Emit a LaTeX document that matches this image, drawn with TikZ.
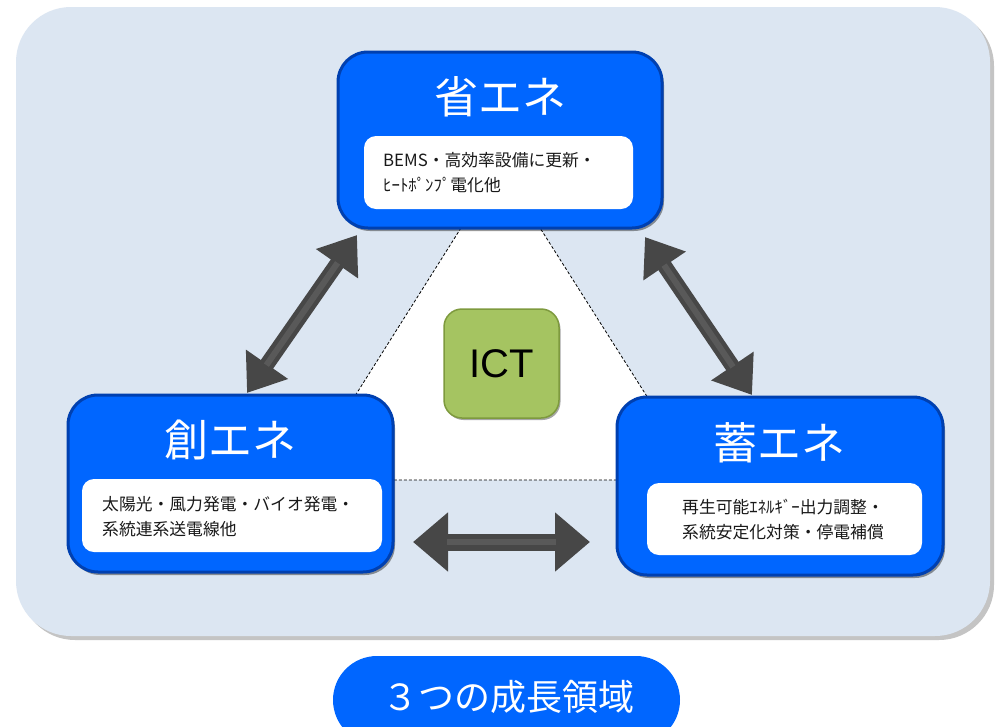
\documentclass[tikz,border=0pt]{standalone}
\usepackage{fontspec}
\newfontfamily\jp{Noto Sans CJK JP}
\newfontfamily\lsans{Liberation Sans}
\usetikzlibrary{arrows.meta,shadows}
\definecolor{panel}{HTML}{DCE6F2}
\definecolor{panelshadow}{HTML}{C4C4C4}
\definecolor{mainblue}{HTML}{0066FF}
\definecolor{darkblue}{HTML}{0040B0}
\definecolor{ictgreen}{HTML}{A5C461}
\definecolor{ictdark}{HTML}{7E9A3E}
\definecolor{arrowgray}{HTML}{474747}
\tikzset{
  bluebox/.style={rectangle, rounded corners=30pt, fill=mainblue, draw=darkblue, line width=3pt,
    drop shadow={shadow xshift=2pt, shadow yshift=-3pt, fill=black, opacity=0.4}, inner sep=0pt},
  whitebox/.style={rectangle, rounded corners=12pt, fill=white, inner sep=0pt},
  titletext/.style={text=white, font=\jp\fontsize{44}{50}\selectfont, inner sep=0pt},
  bodytext/.style={text=black!90, font=\jp\fontsize{16.8}{25}\selectfont, align=left, anchor=west, inner sep=0pt},
  ictbox/.style={rectangle, rounded corners=18pt, fill=ictgreen, draw=ictdark, line width=1.5pt,
    drop shadow={shadow xshift=1.5pt, shadow yshift=-2pt, fill=black, opacity=0.35},
    font=\lsans\fontsize{40}{44}\selectfont, text=black},
  pillbox/.style={rectangle, rounded corners=44pt, fill=mainblue, inner sep=0pt},
  dblarrow/.style={draw=arrowgray, line width=15pt,
    {Triangle[length=35pt,width=49pt]}-{Triangle[length=35pt,width=49pt]}},
  hdblarrow/.style={draw=arrowgray, line width=17pt,
    {Triangle[length=35pt,width=57pt]}-{Triangle[length=35pt,width=57pt]}},
  arrowshine/.style={draw=white, opacity=0.1, line width=6pt, shorten >=34pt, shorten <=34pt},
  guide/.style={draw=black, line width=0.8pt, dash pattern=on 3pt off 2pt, fill=white}
}
\begin{document}
\begin{tikzpicture}[x=1pt,y=-1pt]
\clip (0,0) rectangle (996,726);
\fill[white] (0,0) rectangle (996,726);
% panel
\fill[panelshadow, rounded corners=55pt] (20,11) rectangle (994,640);
\fill[panel, rounded corners=55pt] (16,7) rectangle (990,636);
% white area with dashed guides
\coordinate (g1) at (466,220);
\coordinate (g2) at (535,220);
\coordinate (g3) at (700,480);
\coordinate (g4) at (302,480);
\draw[guide] (g1) -- (g2) -- (g3) -- (g4) -- cycle;
% arrows
\coordinate (la1) at (247,393);
\coordinate (la2) at (357,235);
\coordinate (ra1) at (645,237);
\coordinate (ra2) at (752,395);
\coordinate (ha1) at (413,542);
\coordinate (ha2) at (590,542);
\draw[dblarrow] (la1) -- (la2);
\draw[arrowshine] (la1) -- (la2);
\draw[dblarrow] (ra1) -- (ra2);
\draw[arrowshine] (ra1) -- (ra2);
\draw[hdblarrow] (ha1) -- (ha2);
\draw[arrowshine] (ha1) -- (ha2);
% top box
\node[bluebox, minimum width=324pt, minimum height=176pt] (save) at (500,140) {};
\node[titletext] (savetitle) at (500,97) {省エネ};
\node[whitebox, minimum width=269pt, minimum height=73pt] (savein) at (498.5,172.5) {};
\node[bodytext] (savetext) at (383,173) {BEMS・高効率設備に更新・\\ﾋｰﾄﾎﾟﾝﾌﾟ電化他};
% left box
\node[bluebox, minimum width=325pt, minimum height=177pt] (create) at (230.5,483.5) {};
\node[titletext] (createtitle) at (230,440) {創エネ};
\node[whitebox, minimum width=300pt, minimum height=73pt] (createin) at (232,515.5) {};
\node[bodytext] (createtext) at (102,516.5) {太陽光・風力発電・バイオ発電・\\系統連系送電線他};
% right box
\node[bluebox, minimum width=326pt, minimum height=178pt] (store) at (780,486) {};
\node[titletext] (storetitle) at (779,443) {蓄エネ};
\node[whitebox, minimum width=275pt, minimum height=72pt] (storein) at (784.5,519) {};
\node[bodytext] (storetext) at (682,519.5) {再生可能ｴﾈﾙｷﾞｰ出力調整・\\系統安定化対策・停電補償};
% ICT
\node[ictbox, minimum width=115pt, minimum height=109pt] (ict) at (501.5,363.5) {ICT};
% bottom label
\node[pillbox, minimum width=347pt, minimum height=88pt] (pill) at (506.5,700) {};
\node[text=white, font=\jp\fontsize{36}{40}\selectfont, inner sep=0pt] (pilltext) at (508,697) {３つの成長領域};
\end{tikzpicture}
\end{document}
